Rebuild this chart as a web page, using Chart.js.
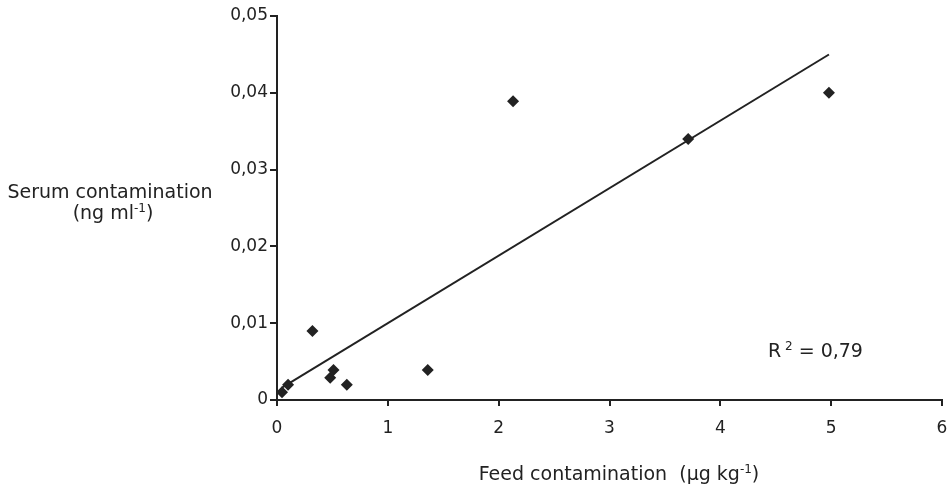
<!DOCTYPE html>
<html>
<head>
<meta charset="utf-8">
<script src="https://cdn.jsdelivr.net/npm/chart.js@4/dist/chart.umd.min.js"></script>
<style>
  html, body { margin: 0; padding: 0; background: #fff; }
  #wrap { width: 950px; height: 486px; }
</style>
</head>
<body>
<div id="wrap"><canvas id="chart" width="950" height="486"></canvas></div>
<script>
// feed contamination (µg/kg) vs serum contamination (ng/ml)
const feedValues  = [0.045, 0.10, 0.32, 0.48, 0.51, 0.63, 1.36, 2.13, 3.71, 4.98];
const serumValues = [0.001, 0.002, 0.009, 0.0029, 0.0039, 0.002, 0.0039, 0.0389, 0.034, 0.040];
const xTicks = [0, 1, 2, 3, 4, 5, 6];
const yTicks = [0, 0.01, 0.02, 0.03, 0.04, 0.05];
const r2Label = '0,79';

const FONT = '"DejaVu Sans", Verdana, sans-serif';
const INK = '#222';

// least squares trend line
const n = feedValues.length;
const mx = feedValues.reduce((a, b) => a + b, 0) / n;
const my = serumValues.reduce((a, b) => a + b, 0) / n;
let sxy = 0, sxx = 0;
for (let i = 0; i < n; i++) {
    sxy += (feedValues[i] - mx) * (serumValues[i] - my);
    sxx += (feedValues[i] - mx) ** 2;
}
const slope = sxy / sxx;
const intercept = my - slope * mx;
const xMin = Math.min(...feedValues), xMax = Math.max(...feedValues);
const trend = [xMin, xMax].map(x => ({ x: x, y: intercept + slope * x }));

function drawSup(ctx, parts, x, y, align) {
    // parts: [[text, isSup], ...]
    const big = '19px ' + FONT, small = '12px ' + FONT;
    let total = 0;
    parts.forEach(p => { ctx.font = p[1] ? small : big; total += ctx.measureText(p[0]).width; });
    let cx = align === 'center' ? x - total / 2 : x;
    ctx.textAlign = 'left';
    ctx.textBaseline = 'alphabetic';
    parts.forEach(p => {
        ctx.font = p[1] ? small : big;
        ctx.fillText(p[0], cx, p[1] ? y - 7 : y);
        cx += ctx.measureText(p[0]).width;
    });
}

const labelsPlugin = {
    id: 'labels',
    afterDraw(chart) {
        const ctx = chart.ctx;
        const xs = chart.scales.x, ys = chart.scales.y;
        ctx.save();
        ctx.fillStyle = INK;
        drawSup(ctx, [['Serum contamination', false]], 110, 198, 'center');
        drawSup(ctx, [['(ng ml', false], ['-1', true], [')', false]], 113, 219, 'center');
        drawSup(ctx, [['Feed contamination  (µg kg', false], ['-1', true], [')', false]], 619, 480, 'center');
        drawSup(ctx, [['R', false], [' 2', true], [' = ' + r2Label, false]], xs.getPixelForValue(4.43), ys.getPixelForValue(0.0056), 'left');
        ctx.restore();
    }
};

new Chart(document.getElementById('chart'), {
    type: 'scatter',
    data: {
        datasets: [
            {
                label: 'Samples',
                data: feedValues.map((x, i) => ({ x: x, y: serumValues[i] })),
                pointStyle: 'rectRot',
                pointRadius: 6,
                backgroundColor: INK,
                borderColor: INK,
                borderWidth: 0,
                order: 1
            },
            {
                label: 'Trend',
                type: 'line',
                data: trend,
                borderColor: INK,
                borderWidth: 2,
                pointRadius: 0,
                fill: false,
                order: 2
            }
        ]
    },
    options: {
        responsive: false,
        animation: false,
        layout: { padding: { top: 16, right: 8, left: 0, bottom: 0 } },
        plugins: {
            legend: { display: false },
            tooltip: { enabled: false }
        },
        scales: {
            x: {
                type: 'linear',
                min: 0,
                max: 6,
                afterBuildTicks: s => { s.ticks = xTicks.map(v => ({ value: v })); },
                afterFit: s => { s.height = 86; s.paddingLeft = 0; s.paddingRight = 0; },
                border: { color: INK, width: 2 },
                grid: { drawOnChartArea: false, drawTicks: true, tickLength: 6, color: INK, lineWidth: 2 },
                ticks: { color: INK, font: { family: FONT, size: 17 }, padding: 12 }
            },
            y: {
                type: 'linear',
                min: 0,
                max: 0.05,
                afterBuildTicks: s => { s.ticks = yTicks.map(v => ({ value: v })); },
                afterFit: s => { s.width = 277; },
                border: { color: INK, width: 2 },
                grid: { drawOnChartArea: false, drawTicks: true, tickLength: 7, color: INK, lineWidth: 2 },
                ticks: {
                    color: INK,
                    font: { family: FONT, size: 17 },
                    padding: 2,
                    callback: v => v === 0 ? '0' : v.toFixed(2).replace('.', ',')
                }
            }
        }
    },
    plugins: [labelsPlugin]
});
</script>
</body>
</html>
